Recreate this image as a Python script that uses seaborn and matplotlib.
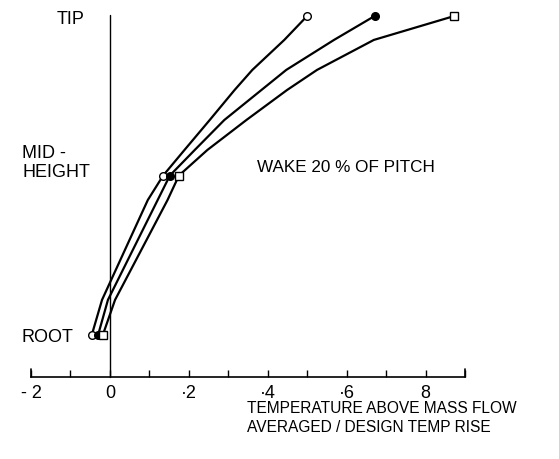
import matplotlib
matplotlib.use("Agg")
import matplotlib.pyplot as plt
import seaborn as sns
import pandas as pd

sns.set_theme(style="white")
plt.rcParams['font.family'] = ['Liberation Sans', 'DejaVu Sans']

# Spanwise position (0 = root, 0.5 = mid-height, 1 = tip) of points
height = [0.0, 0.11, 0.423, 0.5, 0.58, 0.674, 0.768, 0.831, 0.925, 1.0]
curve_open_circle = [-0.46, -0.20, 0.96, 1.35, 1.89, 2.53, 3.16, 3.61, 4.42, 5.00]
curve_filled_circle = [-0.30, -0.05, 1.21, 1.52, 2.15, 2.90, 3.84, 4.47, 5.68, 6.71]
curve_open_square = [-0.18, 0.13, 1.46, 1.75, 2.47, 3.46, 4.49, 5.25, 6.69, 8.73]

# Marker locations (root, mid-height, tip)
marker_height = [0.0, 0.5, 1.0]
marker_open_circle = [-0.46, 1.35, 5.00]
marker_filled_circle = [-0.30, 1.52, 6.71]
marker_open_square = [-0.18, 1.75, 8.73]

tick_values = [-2, 0, 2, 4, 6, 8]
tick_labels = ["- 2", "0", "·2", "·4", "·6", "8"]

W, H = 559, 459
fig = plt.figure(figsize=(W / 100, H / 100), dpi=100)
left_px, right_px, bottom_px, top_px = 31, 465, 377, 15
ax = fig.add_axes([left_px / W, 1 - bottom_px / H, (right_px - left_px) / W, (bottom_px - top_px) / H])

rows = []
for name, xs in [("oc", curve_open_circle), ("fc", curve_filled_circle), ("sq", curve_open_square)]:
    for i, (xv, yv) in enumerate(zip(xs, height)):
        rows.append({"curve": name, "x": xv, "y": yv, "order": i})
df = pd.DataFrame(rows)

sns.lineplot(data=df, x="x", y="y", hue="curve", units="curve", estimator=None, sort=False,
             palette={"oc": "black", "fc": "black", "sq": "black"}, linewidth=1.6,
             legend=False, ax=ax)
for line in ax.lines:
    line.set_clip_on(False)
    line.set_solid_joinstyle("round")

for xs, marker, face in [(marker_open_circle, "o", "white"),
                         (marker_filled_circle, "o", "black"),
                         (marker_open_square, "s", "white")]:
    ax.plot(xs, marker_height, linestyle="none", marker=marker, markersize=5.5,
            markerfacecolor=face, markeredgecolor="black", markeredgewidth=1.0,
            clip_on=False, zorder=5)

y_bottom = (335 - 377) / 319
y_top = (335 - 15) / 319
ax.set_xlim(-2, 9)
ax.set_ylim(y_bottom, y_top)
ax.set_xlabel("")
ax.set_ylabel("")

# vertical reference axis at zero
ax.plot([0, 0], [y_bottom, y_top], color="black", linewidth=1.0, clip_on=False)

for s in ["top", "right", "left"]:
    ax.spines[s].set_visible(False)
ax.spines["bottom"].set_color("black")
ax.spines["bottom"].set_linewidth(1.2)

ax.set_xticks(list(range(-2, 10)))
ax.set_xticklabels([tick_labels[tick_values.index(v)] if v in tick_values else "" for v in range(-2, 10)],
                   fontsize=13)
ax.tick_params(axis="x", direction="in", length=5, width=1, colors="black", pad=6, bottom=True)
ax.set_yticks([])
# taller end ticks
for xe in [-2, 9]:
    ax.plot([xe, xe], [y_bottom, y_bottom + 8 / 319], color="black", linewidth=1.2, clip_on=False)

def px_text(x, y, s, size=13, **kw):
    fig.text(x / W, 1 - y / H, s, fontsize=size, color="black", **kw)

px_text(57, 19, "TIP", va="center", ha="left")
px_text(22, 163, "MID -\nHEIGHT", va="center", ha="left", linespacing=1.1)
px_text(21, 337, "ROOT", va="center", ha="left")
px_text(257, 168, "WAKE 20 % OF PITCH", size=12.3, va="center", ha="left")
px_text(247, 418, "TEMPERATURE ABOVE MASS FLOW\nAVERAGED / DESIGN TEMP RISE", size=11.2,
        va="center", ha="left", linespacing=1.35)

fig.savefig("out.png", dpi=100, facecolor="white")
